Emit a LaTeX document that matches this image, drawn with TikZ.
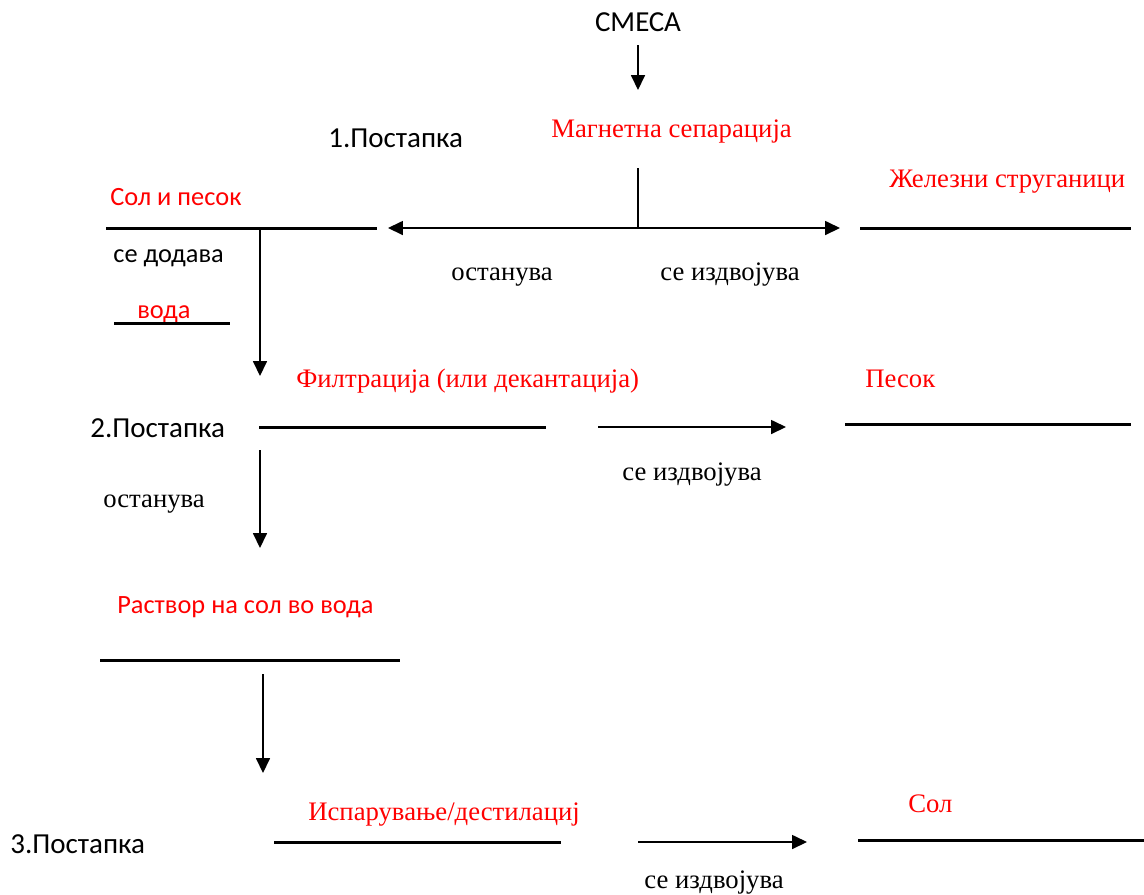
\documentclass[tikz,border=0pt]{standalone}
\usepackage{fontspec}
\setmainfont{Liberation Serif}
\newfontfamily\calibri{Carlito}
\usetikzlibrary{arrows.meta}

\begin{document}
\begin{tikzpicture}[x=0.02cm,y=-0.02cm,
    sans/.style={font=\calibri\fontsize{16.5}{18}\selectfont},
    small/.style={font=\calibri\fontsize{15}{17}\selectfont},
    rom/.style={font=\fontsize{15.2}{17}\selectfont},
    lbl/.style={inner sep=0pt, anchor=base west},
    bar/.style={line width=1.7pt},
    flow/.style={line width=0.75pt, -{Triangle[length=8.5pt,width=8pt]}}]
    \useasboundingbox (0,0) rectangle (1144,894);
    % Mixture and first step
    \node[sans, inner sep=0pt, anchor=base] (smesa) at (638,31) {СМЕСА};
    \node[sans, lbl] (step1) at (328,147) {1.Постапка};
    \node[rom, lbl, red] (magnet) at (551,137) {Магнетна сепарација};
    \node[small, lbl, red] (solpesok) at (110,205) {Сол и песок};
    \node[rom, lbl, red] (zelezo) at (889,187) {Железни струганици};
    \node[small, lbl] (dodava) at (113,262) {се додава};
    \node[small, lbl, red] (voda) at (137,318) {вода};
    \node[rom, lbl] (ostan1) at (451,280) {останува};
    \node[rom, lbl] (izdv1) at (660,280) {се издвојува};
    % Second step
    \node[rom, lbl, red] (filtr) at (296,387) {Филтрација (или декантација)};
    \node[rom, lbl, red] (pesok) at (865,387) {Песок};
    \node[sans, lbl] (step2) at (90,437) {2.Постапка};
    \node[rom, lbl] (izdv2) at (622,480) {се издвојува};
    \node[rom, lbl] (ostan2) at (103,507) {останува};
    % Third step
    \node[small, lbl, red] (rastvor) at (117,613) {Раствор на сол во вода};
    \node[rom, lbl, red] (ispar) at (308,820) {Испарување/дестилациј};
    \node[sans, lbl] (step3) at (10,853) {3.Постапка};
    \node[rom, lbl, red] (sol) at (908,812) {Сол};
    \node[rom, lbl] (izdv3) at (644,888) {се издвојува};
    % Underlines
    \foreach \a/\b/\y in {106/377/228, 860/1131/228, 114/230/323,
        259/546/427, 845/1131/424, 100/400/660, 274/561/842, 858/1144/840} {
      \draw[bar] (\a,\y) -- (\b,\y);
    }
    % Arrow ends
    \coordinate (m0) at (638,45);   \coordinate (m1) at (638,90);
    \coordinate (s0) at (638,168);  \coordinate (s1) at (638,228);
    \coordinate (l1) at (388,228);  \coordinate (r1) at (840,228);
    \coordinate (d0) at (260,229);  \coordinate (d1) at (260,376);
    \coordinate (f0) at (598,427);  \coordinate (f1) at (786,427);
    \coordinate (e0) at (260,450);  \coordinate (e1) at (260,548);
    \coordinate (g0) at (263,674);  \coordinate (g1) at (263,773);
    \coordinate (h0) at (638,842);  \coordinate (h1) at (807,842);
    \draw[flow] (m0) -- (m1);
    \draw[bar] (s0) -- (s1);
    \draw[flow] (s1) -- (l1);
    \draw[flow] (s1) -- (r1);
    \draw[flow] (d0) -- (d1);
    \draw[flow] (f0) -- (f1);
    \draw[flow] (e0) -- (e1);
    \draw[flow] (g0) -- (g1);
    \draw[flow] (h0) -- (h1);
\end{tikzpicture}
\end{document}
